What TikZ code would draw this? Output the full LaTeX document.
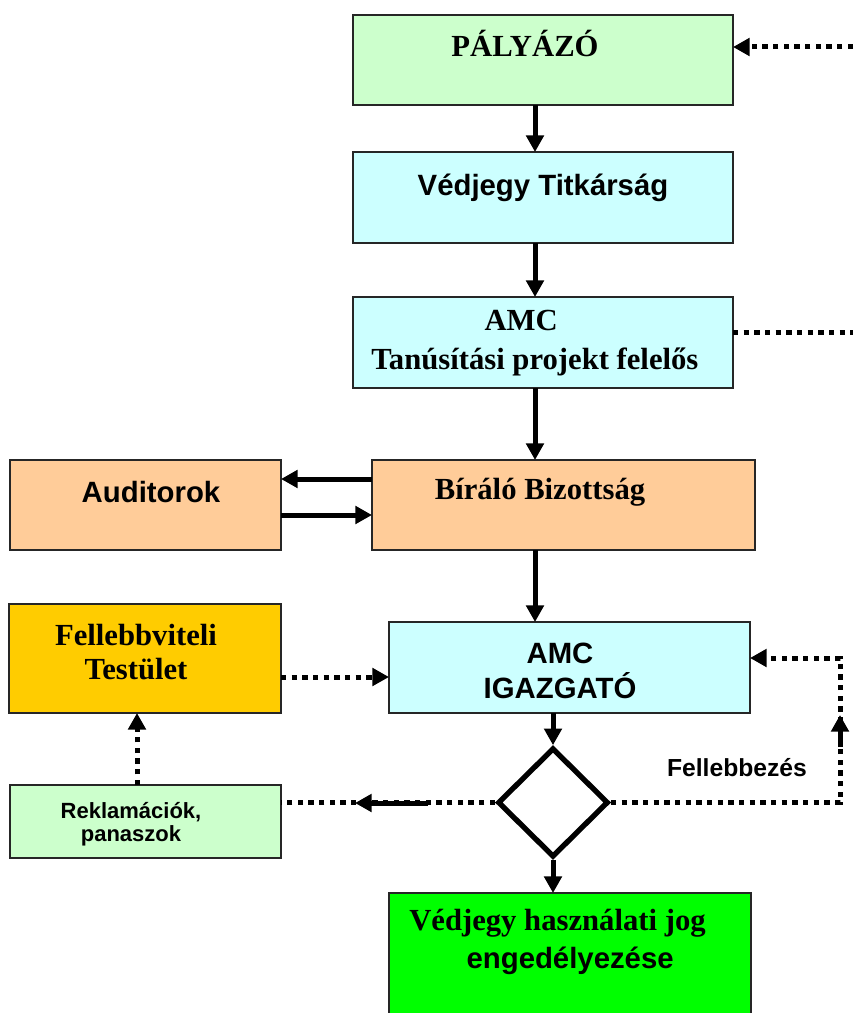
\documentclass[tikz,border=0pt]{standalone}
\usepackage{fontspec}
\setmainfont{Liberation Serif}
\setsansfont{Liberation Sans}
\usepackage{xcolor}
\usetikzlibrary{arrows.meta,shapes.geometric}

\definecolor{palegreen}{HTML}{CCFFCC}
\definecolor{palecyan}{HTML}{CCFFFF}
\definecolor{peach}{HTML}{FFCC99}
\definecolor{gold}{HTML}{FFCC00}
\definecolor{brightgreen}{HTML}{00FF00}

\begin{document}
\begin{tikzpicture}[
  x=0.75pt, y=-0.75pt,
  box/.style={draw=black!85, line width=1.1pt, inner sep=0pt, outer sep=0pt},
  rmtext/.style={font=\fontsize{23}{29}\selectfont\bfseries, align=center, inner sep=0pt},
  sftext/.style={font=\fontsize{22}{26}\selectfont\sffamily\bfseries, align=center, inner sep=0pt},
  arr/.style={-{Triangle[length=12.5pt,width=13pt]}, line width=3.75pt},
  dotline/.style={line width=3.75pt, dash pattern=on 4pt off 4pt},
  dotarr/.style={arr, dotline}
]
  \useasboundingbox (0,0) rectangle (853,1013);
  \clip (0,0) rectangle (853,1013);

  % boxes
  \node[box, fill=palegreen, minimum width=285pt, minimum height=67.5pt] (pal) at (543,60) {};
  \node[box, fill=palecyan, minimum width=285pt, minimum height=68.25pt] (tit) at (543,197.5) {};
  \node[box, fill=palecyan, minimum width=285pt, minimum height=68.25pt] (amc) at (543,342.5) {};
  \node[box, fill=peach, minimum width=287.25pt, minimum height=67.5pt] (bir) at (563.5,505) {};
  \node[box, fill=peach, minimum width=203.25pt, minimum height=67.5pt] (aud) at (145.5,505) {};
  \node[box, fill=palecyan, minimum width=270.75pt, minimum height=68.25pt] (igaz) at (569.5,667.5) {};
  \node[box, fill=gold, minimum width=204pt, minimum height=81.75pt] (fell) at (145,658.5) {};
  \node[box, fill=palegreen, minimum width=203.25pt, minimum height=54.75pt] (rek) at (145.5,821.5) {};
  \node[box, fill=brightgreen, minimum width=271.5pt, minimum height=110.25pt] (fin) at (570,966.5) {};
  \node[draw, diamond, line width=4pt, inner sep=0pt, minimum width=83pt, minimum height=82pt,
        fill=white] (dia) at (553,802.5) {};

  % texts
  \node[rmtext] (palT) at (525,43) {PÁLYÁZÓ};
  \node[sftext] (titT) at (543,188) {Védjegy Titkárság};
  \node[rmtext, align=left, anchor=west] (amcT) at (371,343) {\hspace*{85pt}AMC\\Tanúsítási projekt felelős};
  \node[rmtext] (birT) at (540,492) {Bíráló Bizottság};
  \node[sftext] (audT) at (151,492) {Auditorok};
  \node[sftext] (igazT) at (560,671) {AMC\\IGAZGATÓ};
  \node[rmtext, font=\fontsize{23}{25}\selectfont\bfseries] (fellT) at (136,652) {Fellebbviteli\\Testület};
  \node[sftext, font=\fontsize{16.5}{17.5}\selectfont\sffamily\bfseries] (rekT) at (131,824) {Reklamációk,\\panaszok};
  \node[sftext, font=\fontsize{18.5}{22}\selectfont\sffamily\bfseries] (fbT) at (737,768) {Fellebbezés};
  \node[rmtext, align=left, anchor=west] (finT) at (409,942)
    {Védjegy használati jog\\[-1pt]\hspace*{43pt}{\sffamily\fontsize{22}{28}\selectfont engedélyezése}};

  % helper coordinates
  \coordinate (axisA) at (535,0);
  \coordinate (axisB) at (553,0);
  \coordinate (inPal) at (853,47);
  \coordinate (outAmc) at (853,332);
  \coordinate (yFell) at (0,677);
  \coordinate (xLoop) at (840,0);
  \coordinate (yLoop) at (0,658);
  \coordinate (xRek) at (137,0);
  \coordinate (upTail) at (840,747);
  \coordinate (upTip) at (840,715);
  \coordinate (leftTail) at (428,803);
  \coordinate (leftTip) at (355,803);

  % main flow
  \draw[arr] (pal.south -| axisA) -- (tit.north -| axisA);
  \draw[arr] (tit.south -| axisA) -- (amc.north -| axisA);
  \draw[arr] (amc.south -| axisA) -- (bir.north -| axisA);
  \draw[arr] (bir.south -| axisA) -- (igaz.north -| axisA);
  \draw[arr] (igaz.south -| axisB) -- (dia.north);
  \draw[arr] (dia.south) -- (fin.north -| axisB);

  % auditors
  \draw[arr] ([yshift=19.5pt]bir.west) -- ([yshift=19.5pt]aud.east);
  \draw[arr] ([yshift=-7.5pt]aud.east) -- ([yshift=-7.5pt]bir.west);

  % dotted links
  \draw[dotarr] (inPal) -- (pal.east |- inPal);
  \draw[dotline] (amc.east |- outAmc) -- (outAmc);
  \draw[dotarr] (fell.east |- yFell) -- (igaz.west |- yFell);
  \draw[dotarr] (rek.north -| xRek) -- (fell.south -| xRek);
  \draw[dotline] (dia.west) -- (rek.east |- dia.west);
  \draw[arr] (leftTail) -- (leftTip);
  \draw[dotarr] (dia.east) -- (dia.east -| xLoop) -- (xLoop |- yLoop) -- (igaz.east |- yLoop);
  \draw[arr] (upTail) -- (upTip);
\end{tikzpicture}
\end{document}
